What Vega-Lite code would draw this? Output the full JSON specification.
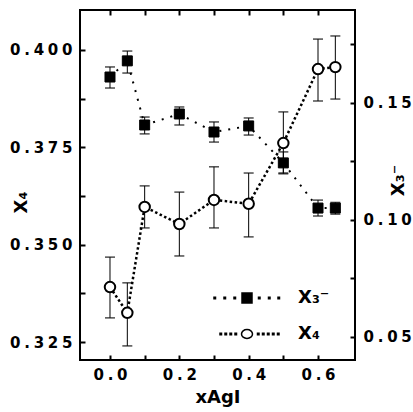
{
  "$schema": "https://vega.github.io/schema/vega-lite/v6.json",
  "autosize": "none",
  "width": 275,
  "height": 350,
  "padding": {"left": 80, "top": 10, "right": 58, "bottom": 52},
  "background": "white",
  "config": {
    "view": {"stroke": "black", "strokeWidth": 2},
    "axis": {
      "domain": false,
      "grid": false,
      "ticks": true,
      "tickColor": "black",
      "tickSize": 5,
      "tickWidth": 2,
      "offset": -5,
      "labelFont": "DejaVu Sans",
      "labelFontWeight": "bold",
      "labelFontSize": 15,
      "labelColor": "black",
      "titleFont": "DejaVu Sans",
      "titleFontWeight": "bold",
      "titleFontSize": 18,
      "titleColor": "black"
    }
  },
  "datasets": {
    "x4": [
      {"series": "X₄", "xAgI": 0.0, "v": 0.3391, "lo": 0.3312, "hi": 0.3468},
      {"series": "X₄", "xAgI": 0.05, "v": 0.3325, "lo": 0.3240, "hi": 0.3402},
      {"series": "X₄", "xAgI": 0.1, "v": 0.3597, "lo": 0.3543, "hi": 0.3651},
      {"series": "X₄", "xAgI": 0.2, "v": 0.3553, "lo": 0.3471, "hi": 0.3635},
      {"series": "X₄", "xAgI": 0.3, "v": 0.3615, "lo": 0.3543, "hi": 0.3700},
      {"series": "X₄", "xAgI": 0.4, "v": 0.3605, "lo": 0.3520, "hi": 0.3684},
      {"series": "X₄", "xAgI": 0.5, "v": 0.3761, "lo": 0.3682, "hi": 0.3841},
      {"series": "X₄", "xAgI": 0.6, "v": 0.3951, "lo": 0.3869, "hi": 0.4028},
      {"series": "X₄", "xAgI": 0.65, "v": 0.3956, "lo": 0.3874, "hi": 0.4036}
    ],
    "x3": [
      {"series": "X₃⁻", "xAgI": 0.0, "v": 0.1611, "lo": 0.1564, "hi": 0.1654},
      {"series": "X₃⁻", "xAgI": 0.05, "v": 0.1680, "lo": 0.1628, "hi": 0.1722},
      {"series": "X₃⁻", "xAgI": 0.1, "v": 0.1406, "lo": 0.1368, "hi": 0.1440},
      {"series": "X₃⁻", "xAgI": 0.2, "v": 0.1453, "lo": 0.1406, "hi": 0.1483},
      {"series": "X₃⁻", "xAgI": 0.3, "v": 0.1376, "lo": 0.1333, "hi": 0.1419},
      {"series": "X₃⁻", "xAgI": 0.4, "v": 0.1402, "lo": 0.1363, "hi": 0.1436},
      {"series": "X₃⁻", "xAgI": 0.5, "v": 0.1244, "lo": 0.1201, "hi": 0.1291},
      {"series": "X₃⁻", "xAgI": 0.6, "v": 0.1051, "lo": 0.1017, "hi": 0.1085},
      {"series": "X₃⁻", "xAgI": 0.65, "v": 0.1051, "lo": 0.1025, "hi": 0.1075}
    ]
  },
  "layer": [
    {
      "data": {"name": "x4"},
      "encoding": {
        "x": {
          "field": "xAgI",
          "type": "quantitative",
          "scale": {"domain": [-0.0865, 0.7067], "nice": false, "zero": false},
          "axis": {
            "orient": "bottom",
            "values": [0, 0.1, 0.2, 0.3, 0.4, 0.5, 0.6],
            "format": ".1f",
            "labelExpr": "round(datum.value * 10) % 2 == 0 ? replace(datum.label, regexp('(.)(?=.)', 'g'), '$1\u2005') : ''",
            "title": "xAgI",
            "labelPadding": 7,
            "titlePadding": 6
          }
        },
        "y": {
          "field": "v",
          "type": "quantitative",
          "scale": {"domain": [0.32038, 0.41027], "nice": false, "zero": false},
          "axis": {
            "orient": "left",
            "values": [0.325, 0.3375, 0.35, 0.3625, 0.375, 0.3875, 0.4],
            "format": ".3f",
            "labelExpr": "round(datum.value * 80) % 2 == 0 ? replace(datum.label, regexp('(.)(?=.)', 'g'), '$1\u2005') : ''",
            "title": "X₄",
            "titleAngle": -90,
            "titleBaseline": "alphabetic",
            "titleAlign": "center",
            "titleX": -59,
            "titleY": 192,
            "labelPadding": 8
          }
        }
      },
      "layer": [
        {"mark": {"type": "rule", "color": "black", "strokeWidth": 1}, "encoding": {"y": {"field": "lo", "type": "quantitative"}, "y2": {"field": "hi"}}},
        {"mark": {"type": "tick", "orient": "horizontal", "color": "black", "size": 10, "thickness": 1.5}, "encoding": {"y": {"field": "lo", "type": "quantitative"}}},
        {"mark": {"type": "tick", "orient": "horizontal", "color": "black", "size": 10, "thickness": 1.5}, "encoding": {"y": {"field": "hi", "type": "quantitative"}}},
        {"mark": {"type": "line", "color": "black", "strokeWidth": 2.5, "strokeDash": [2.5, 2.5]}, "encoding": {}},
        {
          "mark": {"type": "point", "shape": "circle", "filled": true, "size": 110, "stroke": "black", "strokeWidth": 2, "opacity": 1},
          "encoding": {
            "fill": {
              "field": "series",
              "type": "nominal",
              "scale": {"domain": ["X₃⁻", "X₄"], "range": ["black", "white"]},
              "legend": {
                "orient": "none",
                "legendX": 158,
                "legendY": 279,
                "title": null,
                "padding": 0,
                "symbolSize": 100,
                "symbolType": {"expr": "datum.value === 'X₃⁻' ? 'M-1,-1h2v2h-2Z M-6.6,-0.15h0.3v0.3h-0.3Z M-4.6,-0.15h0.3v0.3h-0.3Z M-2.6,-0.15h0.3v0.3h-0.3Z M2.3,-0.15h0.3v0.3h-0.3Z M4.3,-0.15h0.3v0.3h-0.3Z M6.2,-0.15h0.3v0.3h-0.3Z' : 'M-1.1,0A1.1,0.9,0,1,1,1.1,0A1.1,0.9,0,1,1,-1.1,0Z M-5.4,-0.15h0.3v0.3h-0.3Z M-4.4,-0.15h0.3v0.3h-0.3Z M-3.4,-0.15h0.3v0.3h-0.3Z M-2.4,-0.15h0.3v0.3h-0.3Z M2.1,-0.15h0.3v0.3h-0.3Z M3.1,-0.15h0.3v0.3h-0.3Z M4.1,-0.15h0.3v0.3h-0.3Z M5.1,-0.15h0.3v0.3h-0.3Z M6.1,-0.15h0.3v0.3h-0.3Z'"},
                "symbolStrokeColor": "black",
                "symbolStrokeWidth": 1.5,
                "symbolOpacity": 1,
                "rowPadding": 18,
                "labelOffset": 42,
                "labelFont": "DejaVu Sans",
                "labelFontWeight": "bold",
                "labelFontSize": 18,
                "labelColor": "black"
              }
            }
          }
        }
      ]
    },
    {
      "data": {"name": "x3"},
      "encoding": {
        "x": {
          "field": "xAgI",
          "type": "quantitative",
          "axis": {
            "orient": "top",
            "values": [0, 0.1, 0.2, 0.3, 0.4, 0.5, 0.6],
            "labels": false,
            "title": null
          }
        },
        "y": {
          "field": "v",
          "type": "quantitative",
          "scale": {"domain": [0.04017, 0.18974], "nice": false, "zero": false},
          "axis": {
            "orient": "right",
            "values": [0.05, 0.075, 0.1, 0.125, 0.15, 0.175],
            "format": ".2f",
            "labelExpr": "round(datum.value * 40) % 2 == 0 ? replace(datum.label, regexp('(.)(?=.)', 'g'), '$1\u2005') : ''",
            "title": "X₃⁻",
            "titleAngle": -90,
            "titleBaseline": "alphabetic",
            "titleAlign": "center",
            "titleX": 53,
            "titleY": 170,
            "labelPadding": 8
          }
        }
      },
      "layer": [
        {"mark": {"type": "rule", "color": "black", "strokeWidth": 1}, "encoding": {"y": {"field": "lo", "type": "quantitative"}, "y2": {"field": "hi"}}},
        {"mark": {"type": "tick", "orient": "horizontal", "color": "black", "size": 10, "thickness": 1.5}, "encoding": {"y": {"field": "lo", "type": "quantitative"}}},
        {"mark": {"type": "tick", "orient": "horizontal", "color": "black", "size": 10, "thickness": 1.5}, "encoding": {"y": {"field": "hi", "type": "quantitative"}}},
        {"mark": {"type": "line", "color": "black", "strokeWidth": 2, "strokeDash": [2, 7]}, "encoding": {}},
        {"mark": {"type": "point", "shape": "square", "filled": true, "size": 100, "fill": "black", "stroke": "black", "strokeWidth": 1, "opacity": 1}}
      ]
    }
  ],
  "resolve": {"scale": {"y": "independent"}, "axis": {"x": "independent"}}
}
